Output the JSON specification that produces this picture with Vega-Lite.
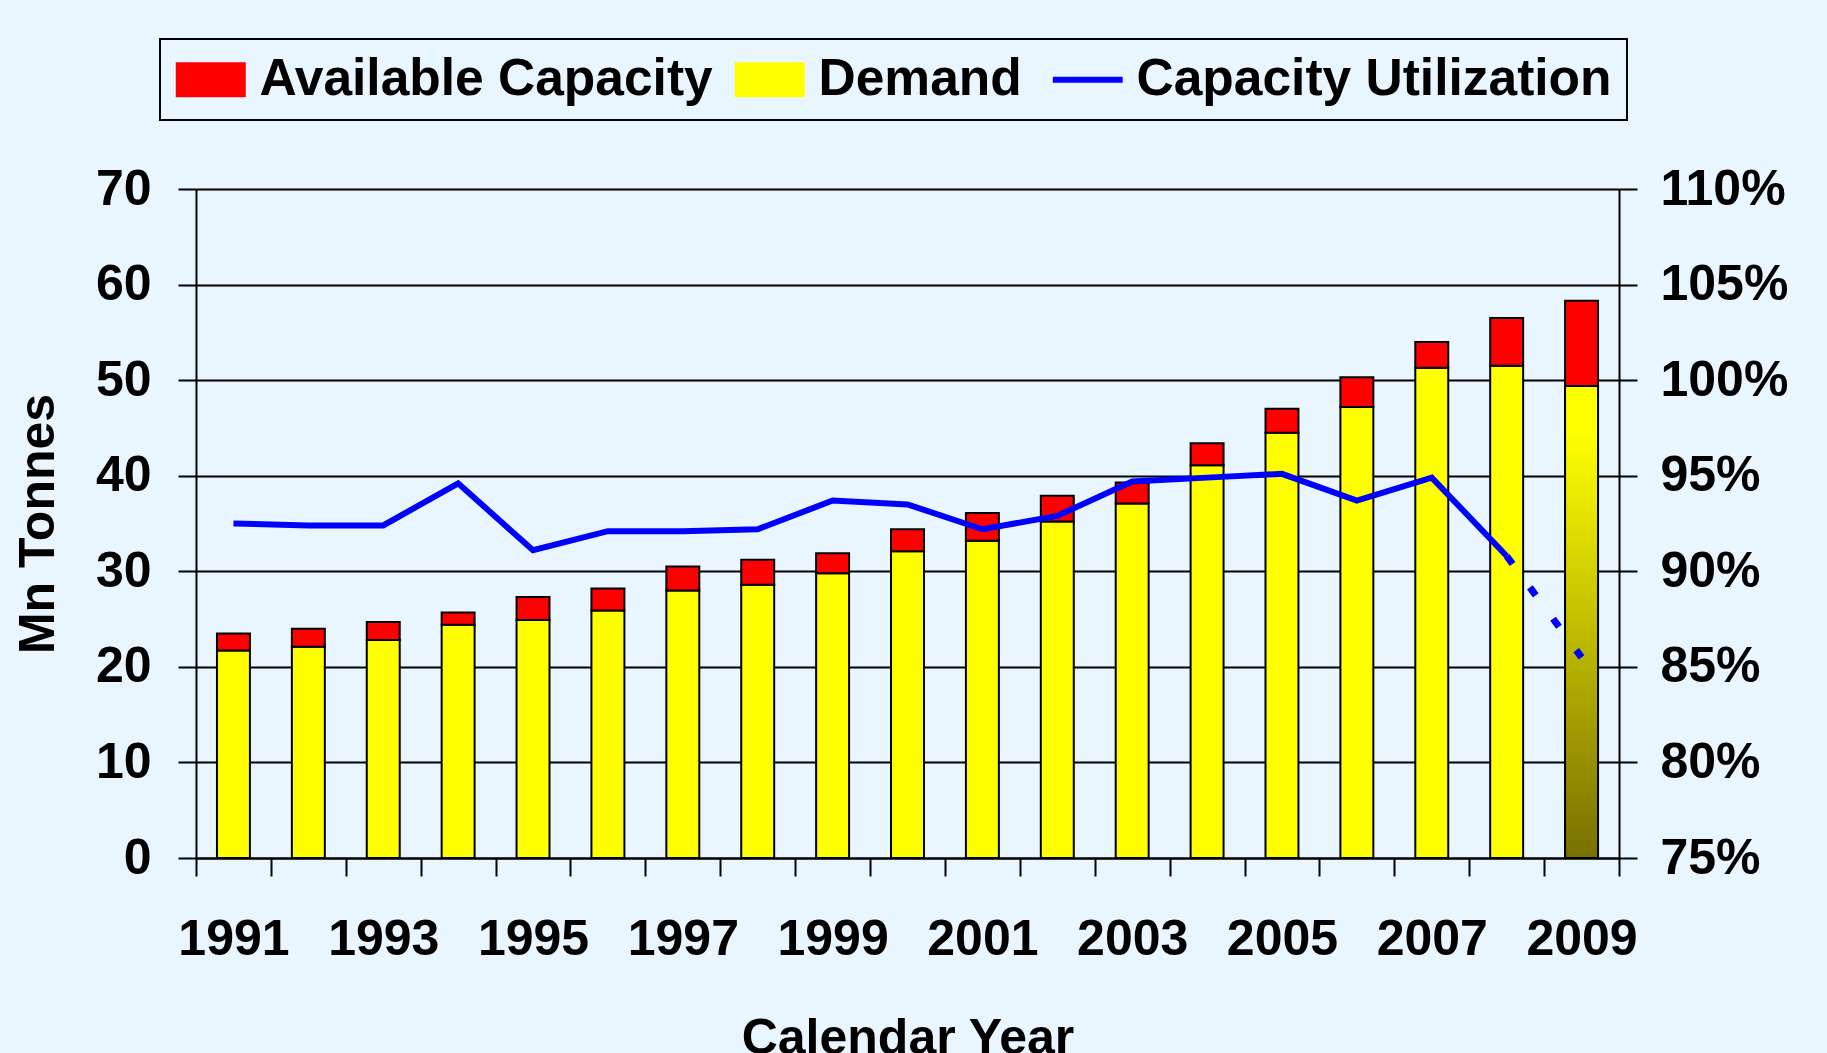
{
  "$schema": "https://vega.github.io/schema/vega-lite/v6.json",
  "width": 1423,
  "height": 669,
  "autosize": {"type": "none"},
  "padding": {"left": 196, "top": 189, "right": 208, "bottom": 195},
  "background": "#EAF6FF",
  "datasets": {
    "bars": [
      {"year": 1991, "series": "Demand", "value": 21.7}, {"year": 1991, "series": "Available Capacity", "value": 1.8},
      {"year": 1992, "series": "Demand", "value": 22.1}, {"year": 1992, "series": "Available Capacity", "value": 1.9},
      {"year": 1993, "series": "Demand", "value": 22.8}, {"year": 1993, "series": "Available Capacity", "value": 1.9},
      {"year": 1994, "series": "Demand", "value": 24.4}, {"year": 1994, "series": "Available Capacity", "value": 1.3},
      {"year": 1995, "series": "Demand", "value": 24.9}, {"year": 1995, "series": "Available Capacity", "value": 2.4},
      {"year": 1996, "series": "Demand", "value": 25.9}, {"year": 1996, "series": "Available Capacity", "value": 2.3},
      {"year": 1997, "series": "Demand", "value": 28.0}, {"year": 1997, "series": "Available Capacity", "value": 2.5},
      {"year": 1998, "series": "Demand", "value": 28.6}, {"year": 1998, "series": "Available Capacity", "value": 2.6},
      {"year": 1999, "series": "Demand", "value": 29.8}, {"year": 1999, "series": "Available Capacity", "value": 2.1},
      {"year": 2000, "series": "Demand", "value": 32.1}, {"year": 2000, "series": "Available Capacity", "value": 2.3},
      {"year": 2001, "series": "Demand", "value": 33.2}, {"year": 2001, "series": "Available Capacity", "value": 2.9},
      {"year": 2002, "series": "Demand", "value": 35.2}, {"year": 2002, "series": "Available Capacity", "value": 2.7},
      {"year": 2003, "series": "Demand", "value": 37.1}, {"year": 2003, "series": "Available Capacity", "value": 2.2},
      {"year": 2004, "series": "Demand", "value": 41.1}, {"year": 2004, "series": "Available Capacity", "value": 2.3},
      {"year": 2005, "series": "Demand", "value": 44.5}, {"year": 2005, "series": "Available Capacity", "value": 2.5},
      {"year": 2006, "series": "Demand", "value": 47.2}, {"year": 2006, "series": "Available Capacity", "value": 3.1},
      {"year": 2007, "series": "Demand", "value": 51.3}, {"year": 2007, "series": "Available Capacity", "value": 2.7},
      {"year": 2008, "series": "Demand", "value": 51.5}, {"year": 2008, "series": "Available Capacity", "value": 5.0},
      {"year": 2009, "series": "Demand", "value": 49.4}, {"year": 2009, "series": "Available Capacity", "value": 8.9}
    ],
    "util": [
      {"year": 1991, "series": "Capacity Utilization", "util": 0.925, "seg": "actual"},
      {"year": 1992, "series": "Capacity Utilization", "util": 0.924, "seg": "actual"},
      {"year": 1993, "series": "Capacity Utilization", "util": 0.924, "seg": "actual"},
      {"year": 1994, "series": "Capacity Utilization", "util": 0.946, "seg": "actual"},
      {"year": 1995, "series": "Capacity Utilization", "util": 0.911, "seg": "actual"},
      {"year": 1996, "series": "Capacity Utilization", "util": 0.921, "seg": "actual"},
      {"year": 1997, "series": "Capacity Utilization", "util": 0.921, "seg": "actual"},
      {"year": 1998, "series": "Capacity Utilization", "util": 0.922, "seg": "actual"},
      {"year": 1999, "series": "Capacity Utilization", "util": 0.937, "seg": "actual"},
      {"year": 2000, "series": "Capacity Utilization", "util": 0.935, "seg": "actual"},
      {"year": 2001, "series": "Capacity Utilization", "util": 0.922, "seg": "actual"},
      {"year": 2002, "series": "Capacity Utilization", "util": 0.929, "seg": "actual"},
      {"year": 2003, "series": "Capacity Utilization", "util": 0.947, "seg": "actual"},
      {"year": 2004, "series": "Capacity Utilization", "util": 0.949, "seg": "actual"},
      {"year": 2005, "series": "Capacity Utilization", "util": 0.951, "seg": "actual"},
      {"year": 2006, "series": "Capacity Utilization", "util": 0.937, "seg": "actual"},
      {"year": 2007, "series": "Capacity Utilization", "util": 0.949, "seg": "actual"},
      {"year": 2008, "series": "Capacity Utilization", "util": 0.908, "seg": "actual"},
      {"year": 2008, "series": "Capacity Utilization", "util": 0.908, "seg": "forecast"},
      {"year": 2009, "series": "Capacity Utilization", "util": 0.855, "seg": "forecast"}
    ]
  },
  "layer": [
    {
      "data": {"name": "bars"},
      "layer": [
        {
          "mark": {"type": "bar", "stroke": "black", "strokeWidth": 2, "width": {"band": 0.44}},
          "encoding": {
            "x": {
              "field": "year", "type": "ordinal",
              "scale": {"paddingInner": 0, "paddingOuter": 0},
              "axis": {
                "title": "Calendar Year", "tickBand": "extent", "labelAngle": 0,
                "labelExpr": "datum.value % 2 == 1 ? datum.label : ''",
                "labelPadding": 38, "labelOverlap": false, "grid": false,
                "titleY": 155, "titleBaseline": "top"
              }
            },
            "y": {
              "field": "value", "type": "quantitative", "stack": "zero",
              "scale": {"domain": [0, 70], "nice": false, "zero": true},
              "axis": {
                "title": "Mn Tonnes", "values": [0, 10, 20, 30, 40, 50, 60, 70],
                "grid": true, "labelPadding": 27,
                "titleAngle": 270, "titleX": -158, "titleBaseline": "middle", "titleAlign": "center"
              }
            },
            "color": {
              "field": "series", "type": "nominal",
              "scale": {
                "domain": ["Available Capacity", "Demand", "Capacity Utilization"],
                "range": ["#FF0000", "#FFFF00", "#0000FF"]
              },
              "legend": {
                "orient": "none", "legendX": -36, "legendY": -150,
                "direction": "horizontal", "title": null,
                "strokeColor": "black", "fillColor": "#EAF6FF", "padding": 14.5,
                "symbolSize": 3025, "symbolOffset": 10.5, "labelOffset": 23,
                "columnPadding": 18, "labelLimit": 1000,
                "symbolType": {"expr": "datum.value === 'Capacity Utilization' ? 'M-1.27,0H1.27' : 'M-1.236,-0.6H1.236V0.6H-1.236Z'"},
                "symbolStrokeWidth": {"expr": "datum.value === 'Capacity Utilization' ? 6 : 2"},
                "symbolStrokeColor": "#000000",
                "symbolOpacity": 1,
                "labelFont": "Liberation Sans", "labelFontSize": 51.5, "labelFontWeight": "bold", "labelColor": "black"
              }
            },
            "order": {"field": "series", "sort": "descending"}
          }
        },
        {
          "transform": [{"filter": "datum.year == 2009 && datum.series == 'Demand'"}],
          "mark": {
            "type": "bar", "stroke": "black", "strokeWidth": 2, "width": {"band": 0.44},
            "fill": {
              "gradient": "linear", "x1": 0, "y1": 0, "x2": 0, "y2": 1,
              "stops": [
                {"offset": 0, "color": "#FFFF00"},
                {"offset": 0.1, "color": "#FFFF00"},
                {"offset": 1, "color": "#777000"}
              ]
            }
          },
          "encoding": {
            "x": {"field": "year", "type": "ordinal"},
            "y": {"field": "value", "type": "quantitative"}
          }
        }
      ]
    },
    {
      "data": {"name": "util"},
      "layer": [
        {
          "transform": [{"filter": "datum.seg == 'actual'"}],
          "mark": {"type": "line", "strokeWidth": 6},
          "encoding": {
            "x": {"field": "year", "type": "ordinal"},
            "y": {
              "field": "util", "type": "quantitative",
              "scale": {"domain": [0.75, 1.1], "nice": false, "zero": false},
              "axis": {
                "orient": "right", "title": null, "format": ".0%",
                "values": [0.75, 0.8, 0.85, 0.9, 0.95, 1.0, 1.05, 1.1],
                "grid": false, "labelPadding": 23
              }
            },
            "color": {"field": "series", "type": "nominal"}
          }
        },
        {
          "transform": [{"filter": "datum.seg == 'forecast'"}],
          "mark": {"type": "line", "strokeWidth": 7, "strokeDash": [10, 29], "strokeCap": "butt"},
          "encoding": {
            "x": {"field": "year", "type": "ordinal"},
            "y": {"field": "util", "type": "quantitative"},
            "color": {"field": "series", "type": "nominal"}
          }
        }
      ]
    }
  ],
  "resolve": {"scale": {"y": "independent"}},
  "config": {
    "font": "Liberation Sans",
    "view": {"stroke": null},
    "legend": {"strokeWidth": 2},
    "axis": {
      "labelFont": "Liberation Sans", "labelFontSize": 50, "labelFontWeight": "bold", "labelColor": "black",
      "titleFont": "Liberation Sans", "titleFontSize": 50, "titleFontWeight": "bold", "titleColor": "black",
      "domainColor": "black", "domainWidth": 2,
      "tickColor": "black", "tickWidth": 2, "tickSize": 18,
      "gridColor": "black", "gridWidth": 2, "gridOpacity": 1
    }
  }
}
